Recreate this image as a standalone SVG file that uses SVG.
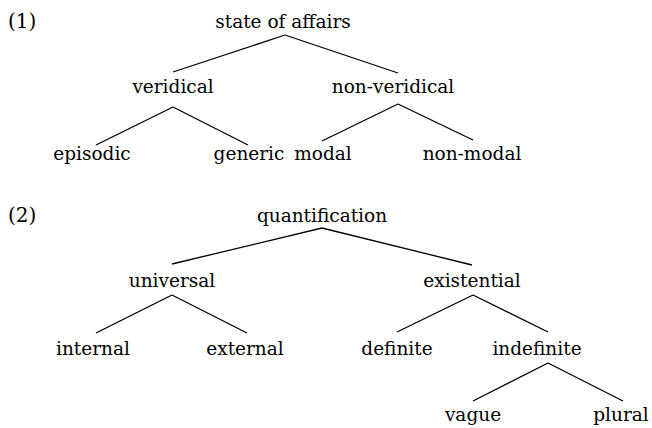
<svg xmlns="http://www.w3.org/2000/svg" width="652" height="428" viewBox="0 0 652 428">
<style>
text{font-family:"DejaVu Serif","Liberation Serif",serif;font-size:18.5px;fill:#000;text-anchor:middle}
.lbl{text-anchor:start}
#connectors line{stroke:#000;stroke-width:1.3}
</style>
<rect width="652" height="428" fill="#fff"/>
<g id="connectors">
<line x1="285" y1="35" x2="173" y2="72"/>
<line x1="285" y1="35" x2="398" y2="73"/>
<line x1="173" y1="107" x2="96" y2="145"/>
<line x1="173" y1="107" x2="248" y2="145"/>
<line x1="398" y1="104" x2="322" y2="141"/>
<line x1="398" y1="104" x2="473" y2="140"/>
<line x1="322" y1="228" x2="172" y2="264"/>
<line x1="322" y1="228" x2="472" y2="265"/>
<line x1="172" y1="295" x2="96" y2="333"/>
<line x1="172" y1="295" x2="247" y2="333"/>
<line x1="473" y1="295" x2="397" y2="332"/>
<line x1="473" y1="295" x2="548" y2="332"/>
<line x1="548" y1="363" x2="473" y2="401"/>
<line x1="548" y1="363" x2="623" y2="401"/>
</g>
<g id="ex1"><text class="lbl" x="8" y="28" style="font-size:20px">(1)</text></g>
<g id="n-state"><text x="283" y="28">state of affairs</text></g>
<g id="n-veridical"><text x="173" y="93">veridical</text></g>
<g id="n-nonveridical"><text x="393" y="93">non-veridical</text></g>
<g id="n-episodic"><text x="92" y="160">episodic</text></g>
<g id="n-generic"><text x="249" y="160">generic</text></g>
<g id="n-modal"><text x="323" y="160">modal</text></g>
<g id="n-nonmodal"><text x="472" y="160">non-modal</text></g>
<g id="ex2"><text class="lbl" x="8" y="222" style="font-size:20px">(2)</text></g>
<g id="n-quant"><text x="322" y="222">quantification</text></g>
<g id="n-universal"><text x="172" y="287">universal</text></g>
<g id="n-existential"><text x="472" y="287">existential</text></g>
<g id="n-internal"><text x="93" y="355">internal</text></g>
<g id="n-external"><text x="245" y="355">external</text></g>
<g id="n-definite"><text x="397" y="355">definite</text></g>
<g id="n-indefinite"><text x="537" y="355">indefinite</text></g>
<g id="n-vague"><text x="473" y="421">vague</text></g>
<g id="n-plural"><text x="621" y="421">plural</text></g>
</svg>
